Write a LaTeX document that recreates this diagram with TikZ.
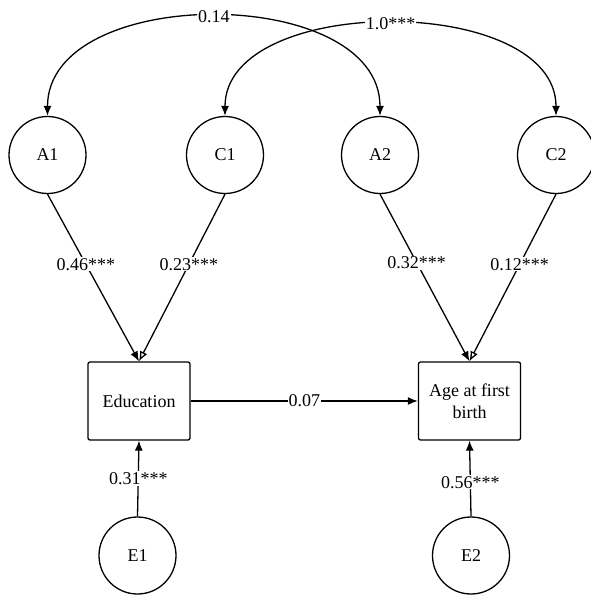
\documentclass[tikz,border=0pt]{standalone}
\usepackage{fontspec}
\setmainfont{Liberation Serif}
\usetikzlibrary{arrows.meta}
\begin{document}
\begin{tikzpicture}[x=1pt,y=-1pt,
  every node/.style={font=\fontsize{18}{22}\selectfont},
  latent/.style={draw,circle,line width=1.3pt,minimum size=77pt,inner sep=0pt},
  observed/.style={draw,rectangle,rounded corners=2pt,line width=1.3pt,minimum width=102pt,minimum height=78pt,align=center,inner sep=2pt},
  path/.style={line width=1.3pt,-{Latex[length=10pt,width=8pt]}},
  patho/.style={line width=1.3pt,-{Latex[open,length=10pt,width=8pt]}},
  covar/.style={line width=1.3pt,{Latex[length=10pt,width=8pt]}-{Latex[length=10pt,width=8pt]}},
  coef/.style={fill=white,inner sep=1pt}]
\useasboundingbox (0,0) rectangle (590,596);
\node[latent] (A1) at (47.5,155) {A1};
\node[latent] (C1) at (225,155) {C1};
\node[latent] (A2) at (380,155) {A2};
\node[latent] (C2) at (556,155) {C2};
\node[observed] (edu) at (139,401) {Education};
\node[observed] (age) at (469.5,401) {Age at first\\birth};
\node[latent] (E1) at (137.5,555.5) {E1};
\node[latent] (E2) at (471,555.5) {E2};
\draw[covar] (A1.north) to[out=90,in=90,looseness=1.02] node[coef,pos=0.5] {0.14} (A2.north);
\draw[covar] (C1.north) to[out=90,in=90,looseness=0.95] node[coef,pos=0.5] {1.0***} (C2.north);
\draw[path] (A1.south) -- node[coef,pos=0.42] {0.46***} (edu.north);
\draw[patho] (C1.south) -- node[coef,pos=0.42] {0.23***} (edu.north);
\draw[path] (A2.south) -- node[coef,pos=0.41] {0.32***} (age.north);
\draw[patho] (C2.south) -- node[coef,pos=0.42] {0.12***} (age.north);
\draw[path] (edu.east) -- node[coef] {0.07} (age.west);
\draw[path] (E1.north) -- node[coef] {0.31***} (edu.south);
\draw[path] (E2.north) -- node[coef,pos=0.45] {0.56***} (age.south);
\end{tikzpicture}
\end{document}
